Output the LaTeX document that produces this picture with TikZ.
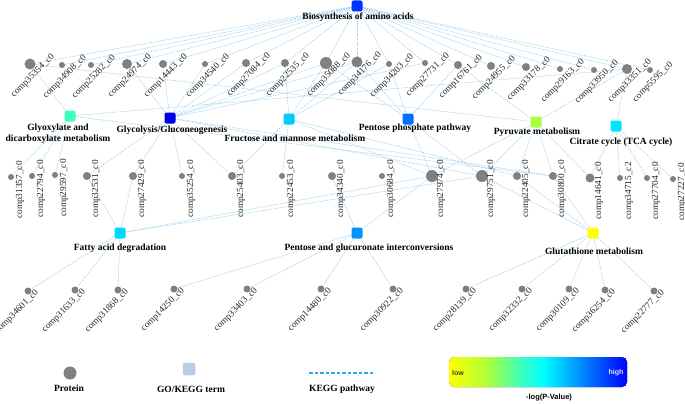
\documentclass[tikz,border=0pt]{standalone}
\usepackage{fontspec}
\setmainfont{Liberation Serif}
\newfontfamily\arialf{Liberation Sans}
\pgfdeclarelayer{bgfill}
\pgfdeclarelayer{background}
\pgfsetlayers{bgfill,background,main}
\definecolor{protc}{RGB}{128,128,128}
\definecolor{edgec}{RGB}{150,205,240}
\definecolor{legdash}{RGB}{40,170,240}
\definecolor{termc}{RGB}{185,205,230}
\definecolor{cbio}{RGB}{0,51,255}
\definecolor{cgly}{RGB}{64,255,190}
\definecolor{cglc}{RGB}{0,0,230}
\definecolor{cfru}{RGB}{0,204,255}
\definecolor{cppp}{RGB}{0,110,255}
\definecolor{cpyr}{RGB}{170,255,60}
\definecolor{ctca}{RGB}{0,230,255}
\definecolor{cfad}{RGB}{0,220,255}
\definecolor{cpgi}{RGB}{0,150,255}
\definecolor{cglu}{RGB}{255,255,0}
\definecolor{gyel}{RGB}{255,255,0}
\definecolor{glim}{RGB}{170,255,60}
\definecolor{gaqu}{RGB}{60,255,190}
\definecolor{gcya}{RGB}{0,255,255}
\definecolor{gazu}{RGB}{0,130,255}
\definecolor{gblu}{RGB}{0,0,255}
\definecolor{lowc}{RGB}{70,70,0}
\definecolor{highc}{RGB}{225,225,255}
\tikzset{
  prot/.style={circle,fill=protc,draw=none,inner sep=0pt},
  term/.style={rectangle,rounded corners=2pt,draw=none,inner sep=0pt,minimum size=11pt},
  plab/.style={font=\fontsize{9.3}{10}\selectfont,text=black!85,inner sep=0pt},
  diaglab/.style={plab,rotate=45},
  vertlab/.style={plab,rotate=90},
  tlab/.style={font=\bfseries\fontsize{9.5}{11}\selectfont,inner sep=0pt,align=center},
  edge/.style={draw=edgec,line width=0.5pt,dash pattern=on 1.5pt off 1pt},
}
\begin{document}
\begin{tikzpicture}[x=1pt,y=-1pt]
\begin{pgfonlayer}{bgfill}
\fill[white] (0,0) rectangle (685,404);
\end{pgfonlayer}
\useasboundingbox (0,0) rectangle (685,404);
% pathway terms
\node[term,fill=cbio] (bio) at (357,6) {};
\node[tlab] (biol) at (358,17) {Biosynthesis of amino acids};
\node[term,fill=cgly] (gly) at (70,116) {};
\node[tlab] (glyl) at (58,133.5) {Glyoxylate and\\dicarboxylate metabolism};
\node[term,fill=cglc] (glc) at (170,118) {};
\node[tlab] (glcl) at (172,130) {Glycolysis/Gluconeogenesis};
\node[term,fill=cfru] (fru) at (289,119) {};
\node[tlab] (frul) at (295,138) {Fructose and mannose metabolism};
\node[term,fill=cppp] (ppp) at (408,119) {};
\node[tlab] (pppl) at (415,128) {Pentose phosphate pathway};
\node[term,fill=cpyr] (pyr) at (536,122) {};
\node[tlab] (pyrl) at (537,132) {Pyruvate metabolism};
\node[term,fill=ctca] (tca) at (616,126) {};
\node[tlab] (tcal) at (621,142) {Citrate cycle (TCA cycle)};
\node[term,fill=cfad] (fad) at (120,233) {};
\node[tlab] (fadl) at (120,248) {Fatty acid degradation};
\node[term,fill=cpgi] (pgi) at (357,233) {};
\node[tlab] (pgil) at (369,248) {Pentose and glucuronate interconversions};
\node[term,fill=cglu] (glu) at (593,233) {};
\node[tlab] (glul) at (594,251) {Glutathione metabolism};
% top row proteins
\foreach \n/\x/\y/\d/\lab in {
 t1/30/64/11/comp35354\_c0, t2/62/65/6/comp34908\_c0, t3/91/65/6/comp25282\_c0,
 t4/127/64/10/comp24974\_c0, t5/163/64/8/comp14443\_c0, t6/205/64/6/comp34540\_c0,
 t7/246/63/8/comp27084\_c0, t8/285/63/8/comp22535\_c0, t9/326/63/12/comp35088\_c0,
 t10/357/62/11/comp34176\_c0, t11/389/64/6/comp34203\_c0, t12/425/63/6/comp27731\_c0,
 t13/458/65/8/comp16761\_c0, t14/491/66/8/comp24955\_c0, t15/526/67/8/comp33178\_c0,
 t16/560/69/6/comp29163\_c0, t17/594/70/6/comp33950\_c0, t18/627/69/10/comp33351\_c0,
 t19/650/70/6/comp5595\_c0}{
  \node[prot,minimum size=\d pt] (\n) at (\x,\y) {};
  \node[diaglab] (\n l) at ([shift={(3,12)}]\n) {\lab};
}
% middle row proteins
\foreach \n/\x/\y/\d/\lab in {
 m1/11/177/6/comp31357\_c0, m2/32/176/6/comp22794\_c0, m3/55/175/6/comp29597\_c0,
 m4/87/176/8/comp32531\_c0, m5/133/176/8/comp27429\_c0, m6/182/176/6/comp35254\_c0,
 m7/232/176/8/comp25403\_c0, m8/282/176/6/comp22453\_c0, m9/332/176/8/comp34340\_c0,
 m10/382/176/6/comp30684\_c0, m11/432/176/12/comp27974\_c0, m12/482/176/12/comp29751\_c0,
 m13/517/176/8/comp22405\_c0, m14/553/176/8/comp30800\_c0, m15/590/178/9/comp14641\_c0,
 m16/620/178/6/comp34715\_c2, m17/647/178/6/comp27704\_c0, m18/673/179/6/comp27227\_c0}{
  \node[prot,minimum size=\d pt] (\n) at (\x,\y) {};
  \node[vertlab] (\n l) at ([shift={(9,13)}]\n) {\lab};
}
% bottom row proteins
\foreach \n/\x/\y/\lab in {
 b1/28/291/comp34601\_c0, b2/75/290/comp31633\_c0, b3/118/290/comp31868\_c0,
 b4/174/289/comp14250\_c0, b5/247/289/comp33403\_c0, b6/321/289/comp14480\_c0,
 b7/393/289/comp30922\_c0, b8/466/289/comp28139\_c0, b9/522/289/comp32332\_c0,
 b10/569/289/comp30109\_c0, b11/605/290/comp36254\_c0, b12/654/291/comp22777\_c0}{
  \node[prot,minimum size=7pt] (\n) at (\x,\y) {};
  \node[diaglab] (\n l) at ([shift={(-11,21)}]\n) {\lab};
}
% edges
\begin{pgfonlayer}{background}
\foreach \a/\b in {
 bio/t1,bio/t2,bio/t3,bio/t4,bio/t5,bio/t6,bio/t7,bio/t8,bio/t9,bio/t10,
 bio/t11,bio/t12,bio/t13,bio/t14,bio/t15,bio/t16,bio/t17,bio/t18,bio/t19,
 glc/t4,glc/t5,glc/t6,glc/t7,glc/t8,glc/t9,glc/t10,glc/t12,glc/m4,glc/m5,glc/m6,glc/m7,glc/m12,glc/m14,
 gly/t1,gly/t18,gly/m1,gly/m2,gly/m3,gly/m14,
 fru/t8,fru/t9,fru/t10,fru/t11,fru/m7,fru/m8,fru/m11,fru/m13,
 ppp/t9,ppp/t10,ppp/t11,ppp/t13,ppp/m11,ppp/m12,
 pyr/t1,pyr/t13,pyr/t18,pyr/m11,pyr/m12,pyr/m13,pyr/m14,pyr/m15,
 tca/t18,tca/m15,tca/m16,tca/m17,tca/m18,
 fad/m4,fad/m5,fad/m11,fad/m12,fad/b1,fad/b2,fad/b3,
 pgi/m9,pgi/m11,pgi/b4,pgi/b5,pgi/b6,pgi/b7,
 glu/m12,glu/m13,glu/m14,glu/b8,glu/b9,glu/b10,glu/b11,glu/b12}{
  \draw[edge] (\a.center) -- (\b.center);
}
\end{pgfonlayer}
% legend
\node[prot,minimum size=13pt] (lgp) at (70,373) {};
\node[tlab] (lgpl) at (69,388) {Protein};
\node[term,fill=termc,minimum size=12.5pt] (lgt) at (189,369) {};
\node[tlab] (lgtl) at (191,389) {GO/KEGG term};
\coordinate (lgd1) at (309,373);
\coordinate (lgd2) at (375,373);
\draw[draw=legdash,line width=1.4pt,dash pattern=on 3.5pt off 2pt] (lgd1) -- (lgd2);
\node[tlab] (lgdl) at (342,389) {KEGG pathway};
\begin{scope}
\clip[rounded corners=5pt] (449,357) rectangle (627,387);
\fill[left color=gyel,right color=glim,draw=none] (448,356) rectangle (489,388);
\fill[left color=glim,right color=gaqu,draw=none] (488.5,356) rectangle (521,388);
\fill[left color=gaqu,right color=gcya,draw=none] (520.5,356) rectangle (544,388);
\fill[left color=gcya,right color=gazu,draw=none] (543.5,356) rectangle (584,388);
\fill[left color=gazu,right color=gblu,draw=none] (583.5,356) rectangle (628,388);
\end{scope}
\node[font=\arialf\bfseries\fontsize{7}{8}\selectfont,text=lowc,inner sep=0pt] (lowl) at (458,373) {low};
\node[font=\arialf\bfseries\fontsize{7}{8}\selectfont,text=highc,inner sep=0pt] (highl) at (616,373) {high};
\node[font=\arialf\bfseries\fontsize{7.5}{9}\selectfont,inner sep=0pt] (pvl) at (549,398) {-log(P-Value)};
\end{tikzpicture}
\end{document}
